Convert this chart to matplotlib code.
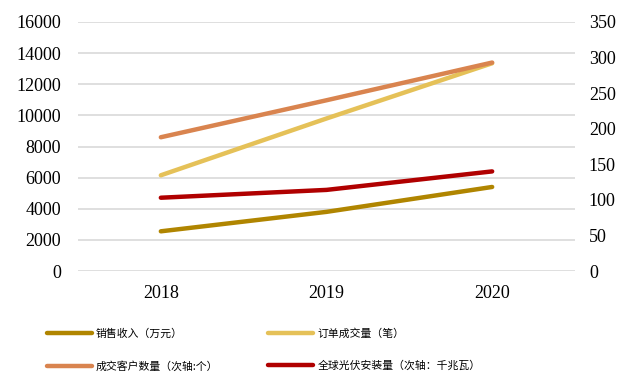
import matplotlib.pyplot as plt
import numpy as np

# data
years = ["2018", "2019", "2020"]
sales = [2550, 3800, 5400]          # 销售收入（万元）
orders = [6150, 9800, 13350]        # 订单成交量（笔）
customers = [188, 240, 293]         # 成交客户数量（次轴:个）
pv_install = [103, 114, 140]        # 全球光伏安装量（次轴：千兆瓦）

labels = ["销售收入（万元）", "订单成交量（笔）",
          "成交客户数量（次轴:个）", "全球光伏安装量（次轴：千兆瓦）"]
colors = ["#B08500", "#E5C158", "#D9844F", "#B00000"]

num_font = "Liberation Serif"
cjk_font = ["Noto Sans CJK SC", "DejaVu Sans"]

fig = plt.figure(figsize=(6.31, 3.74), dpi=100)
ax = fig.add_axes([78/631, 1 - 271/374, (575 - 78)/631, (271 - 22)/374])
ax2 = ax.twinx()

x = np.arange(len(years))
lw = 3.2
l1, = ax.plot(x, sales, color=colors[0], lw=lw, solid_capstyle="round", zorder=3)
l2, = ax.plot(x, orders, color=colors[1], lw=lw, solid_capstyle="round", zorder=3)
l3, = ax2.plot(x, customers, color=colors[2], lw=lw, solid_capstyle="round", zorder=3)
l4, = ax2.plot(x, pv_install, color=colors[3], lw=lw, solid_capstyle="round", zorder=3)

ax.set_xlim(-0.5, 2.5)
ax.set_ylim(0, 16000)
ax.set_yticks(np.arange(0, 16001, 2000))
ax2.set_ylim(0, 350)
ax2.set_yticks(np.arange(0, 351, 50))
ax.set_xticks(x)
ax.set_xticklabels(years)

ax.grid(axis="y", color="#D9D9D9", lw=1.2)
ax.set_axisbelow(True)
for a in (ax, ax2):
    for s in a.spines.values():
        s.set_visible(False)
    a.tick_params(length=0, labelsize=13)
    for t in a.get_xticklabels() + a.get_yticklabels():
        t.set_fontfamily(num_font)
ax.tick_params(axis="y", pad=12)
ax.tick_params(axis="x", pad=10)
ax2.tick_params(axis="y", pad=10)

fig.legend([l1, l3, l2, l4], [labels[0], labels[2], labels[1], labels[3]],
           ncol=2, loc="center", bbox_to_anchor=(0.418, 0.064),
           frameon=False, prop={"family": cjk_font, "size": 7.8},
           handlelength=4.15, columnspacing=4.6, labelspacing=2.0,
           handletextpad=0.37)

fig.savefig("out.png", dpi=100)
